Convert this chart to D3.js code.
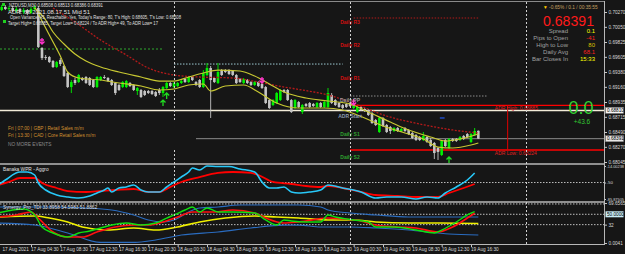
<!DOCTYPE html>
<html><head><meta charset="utf-8">
<script src="https://cdn.jsdelivr.net/npm/d3@7"></script>
<style>html,body{margin:0;padding:0;background:#161616;overflow:hidden}text{font-family:"Liberation Sans",Arial,sans-serif}</style>
</head><body><svg id="c" width="625" height="254"></svg>
<script>
// ---------------- DATA ----------------
const openP = [.70329,.70299,.70344,.70314,.70329,.70284,.70314,.70270,.70299,.70255,
.70314,.70329,.69736,.69602,.69602,.69543,.69454,.69558,.69469,.69365,
.69157,.69261,.69231,.69291,.69306,.69291,.69261,.69157,.69261,.69306,
.69291,.69261,.69217,.69187,.69157,.69157,.69217,.69187,.69098,.69113,
.69098,.69098,.69098,.69083,.69113,.69068,.69142,.69217,.69157,.69172,
.69217,.69276,.69231,.69306,.69231,.69261,.69157,.69335,.69439,.69291,
.69217,.69409,.69409,.69409,.69395,.69335,.69276,.69217,.69261,.69231,
.69187,.69231,.69202,.69157,.68964,.68890,.68920,.68964,.69113,.69113,
.68964,.68846,.68935,.68786,.68905,.68920,.68905,.68861,.68920,.68861,
.68861,.69039,.68964,.68920,.68890,.68905,.68920,.68846,.68786,.68861,
.68831,.68816,.68772,.68668,.68490,.68698,.68594,.68564,.68505,.68549,
.68505,.68549,.68520,.68475,.68445,.68416,.68371,.68416,.68371,.68327,
.68253,.68149,.68371,.68253,.68386,.68386,.68371,.68431,.68460,.68342,
.68445,.68508];
const highP = [.70358,.70373,.70373,.70358,.70358,.70344,.70329,.70329,.70314,.70344,
.70373,.70358,.69750,.69632,.69617,.69558,.69543,.69587,.69484,.69380,
.69261,.69291,.69350,.69306,.69320,.69306,.69276,.69320,.69320,.69335,
.69306,.69276,.69231,.69202,.69246,.69261,.69231,.69202,.69157,.69128,
.69113,.69113,.69113,.69098,.69142,.69172,.69231,.69231,.69231,.69231,
.69261,.69291,.69320,.69320,.69246,.69276,.69409,.69513,.69469,.69306,
.69513,.69424,.69424,.69424,.69409,.69350,.69291,.69291,.69276,.69246,
.69246,.69246,.69231,.69172,.68979,.68979,.69083,.69128,.69128,.69128,
.68979,.68979,.68950,.68905,.68920,.68935,.68920,.68935,.68935,.68950,
.69142,.69068,.68979,.68935,.68905,.68920,.68935,.68920,.68875,.68875,
.68846,.68831,.68786,.68683,.68712,.68712,.68609,.68579,.68564,.68564,
.68549,.68564,.68534,.68490,.68460,.68431,.68490,.68431,.68401,.68342,
.68267,.68371,.68386,.68401,.68401,.68401,.68431,.68445,.68475,.68475,
.68549,.68513];
const lowP = [.70270,.70284,.70299,.70284,.70270,.70255,.70240,.70240,.70225,.70240,
.70284,.69736,.69558,.69558,.69513,.69439,.69439,.69469,.69306,.69142,
.69068,.69187,.69217,.69246,.69202,.69172,.69142,.69142,.69246,.69276,
.69231,.69172,.69039,.69098,.69142,.69142,.69157,.69098,.69039,.68994,
.69024,.69053,.69039,.69009,.69039,.69009,.69128,.69157,.69142,.69157,
.69202,.69217,.69217,.69246,.69172,.69142,.69142,.69320,.68698,.69217,
.69202,.69320,.69365,.69335,.69320,.69202,.69217,.69202,.69202,.69172,
.69172,.69157,.69128,.68905,.68831,.68875,.68905,.68950,.69068,.68950,
.68772,.68831,.68846,.68757,.68861,.68846,.68861,.68846,.68846,.68846,
.68846,.68905,.68875,.68846,.68831,.68846,.68861,.68831,.68772,.68801,
.68786,.68727,.68609,.68579,.68475,.68564,.68475,.68460,.68490,.68490,
.68490,.68490,.68445,.68386,.68356,.68356,.68356,.68327,.68267,.68089,
.68075,.68134,.68267,.68238,.68342,.68342,.68356,.68371,.68401,.68327,
.68431,.68386];
const closeP = [.70299,.70344,.70314,.70329,.70284,.70314,.70270,.70299,.70255,.70314,
.70344,.69750,.69587,.69587,.69528,.69454,.69528,.69498,.69320,.69157,
.69231,.69217,.69335,.69261,.69217,.69187,.69157,.69306,.69306,.69291,
.69246,.69187,.69068,.69113,.69231,.69246,.69172,.69113,.69142,.69009,
.69039,.69068,.69053,.69024,.69068,.69157,.69217,.69172,.69217,.69217,
.69246,.69231,.69306,.69261,.69187,.69157,.69365,.69439,.69261,.69231,
.69380,.69335,.69380,.69350,.69335,.69217,.69231,.69276,.69217,.69187,
.69231,.69172,.69142,.68920,.68846,.68964,.69068,.69113,.69083,.68964,
.68786,.68964,.68861,.68890,.68875,.68861,.68875,.68920,.68861,.68935,
.69068,.68920,.68890,.68861,.68846,.68861,.68875,.68905,.68861,.68816,
.68801,.68742,.68623,.68594,.68698,.68579,.68490,.68505,.68549,.68505,
.68534,.68505,.68460,.68401,.68371,.68371,.68431,.68342,.68282,.68178,
.68193,.68356,.68282,.68386,.68356,.68356,.68416,.68386,.68416,.68460,
.68505,.68391];

// moving averages (bar index, price)
const maUpperBars = [10,13,15,18,21,24,28,33,39,44,48,52,56,60,66,70,74,78,84,90,96,101,107,112,118,122,126,131];
const maUpperVals = [.70329,.70151,.69973,.69795,.69647,.69543,.69454,.69380,.69306,.69246,.69246,.69306,.69365,.69409,.69395,.69320,.69202,.69083,.68994,.68950,.68905,.68786,.68638,.68520,.68416,.68356,.68386,.68460];
const maLowerBars = [11,14,17,19,22,28,33,39,44,48,52,56,58,62,67,71,76,82,89,94,100,105,111,116,120,124,129,131];
const maLowerVals = [.70240,.69928,.69617,.69380,.69291,.69261,.69217,.69172,.69113,.69128,.69187,.69202,.69098,.69172,.69187,.69083,.68920,.68846,.68846,.68816,.68698,.68579,.68475,.68386,.68267,.68253,.68297,.68327];
const maSlowBars = [15,21,28,35,41,48,55,64,71,78,83,90,96,106,115,124,131];
const maSlowVals = [.70329,.70121,.69854,.69632,.69439,.69335,.69306,.69291,.69231,.69157,.69113,.69039,.68935,.68727,.68609,.68520,.68475];

// signal arrows
const downArrowBars = [12,72,97];
const downArrowVals = [.69795,.69217,.68890];
const upArrowBars = [45,46,123];
const upArrowVals = [.68964,.69068,.68119];

// levels
const pivotNames = ["Daily R3","Daily R2","Daily R1","Daily PP","ADR Start","Daily S1","Daily S2"];
const pivotVals = [.70181,.69839,.69350,.69024,.68772,.68505,.68164];
const pivotColors = ["#d01010","#d01010","#d01010","#9a9a9a","#8b9bb0","#2fa02f","#2fa02f"];
const adrHigh = 0.68885, adrLow = 0.68224, whiteLevel = 0.68810, bidPrice = 0.68391;
const prevLevelGreen = 0.69721, prevLevelBlue = 0.69498;

// axes
const priceTicks = [0.70270,0.70050,0.69825,0.69605,0.69380,0.69160,0.68935,0.68715,0.68490,0.68270,0.68045];
const timeTickBars = [0,9,17,25,33,41,49,57,65,73,81,89,97,105,113,121,129];
const timeLabels = ["17 Aug 2021","17 Aug 04:30","17 Aug 08:30","17 Aug 12:30","17 Aug 16:30","17 Aug 20:30","18 Aug 00:30","18 Aug 04:30","18 Aug 08:30","18 Aug 12:30","18 Aug 16:30","18 Aug 20:30","19 Aug 00:30","19 Aug 04:30","19 Aug 08:30","19 Aug 12:30","19 Aug 16:30"];
const daySepBars = [48,96,144];

// Banaka WPR
const wprCyanBars = [0,2,6,8,10,11,13,16,19,22,25,27,29,30,31,33,35,37,39,41,44,46,48,50,52,53,55,57,60,63,66,70,72,74,76,78,80,82,85,88,90,94,99,103,106,110,114,117,120,122,125,128,130];
const wprCyanVals = [-55.4,-44.5,-27.1,-27.1,-33.6,-51.0,-66.3,-77.2,-81.5,-83.7,-79.3,-72.8,-66.3,-61.9,-70.6,-61.9,-59.7,-55.4,-66.3,-70.6,-70.6,-59.7,-48.8,-38.0,-27.1,-18.4,-22.7,-14.0,-15.1,-15.1,-20.5,-27.1,-48.8,-61.9,-61.9,-59.7,-70.6,-72.8,-70.6,-66.3,-55.4,-61.9,-70.6,-83.7,-81.5,-81.5,-85.8,-81.5,-83.7,-72.8,-59.7,-44.5,-29.2];
const wprRedBars = [0,3,6,10,12,16,19,24,28,32,37,41,44,47,50,55,60,64,69,71,75,80,84,88,90,94,99,103,109,114,120,123,127,130];
const wprRedVals = [-55.4,-48.8,-40.1,-40.1,-51.0,-61.9,-68.5,-70.6,-68.5,-66.3,-64.1,-70.6,-70.6,-59.7,-48.8,-38.0,-29.2,-27.1,-29.2,-33.6,-48.8,-53.2,-57.6,-59.7,-57.6,-61.9,-70.6,-77.2,-79.3,-81.5,-81.5,-72.8,-61.9,-53.2];
const wprTicks = [-14.00238,-50,-85.87505];
const wprTickLabels = ["-14.00238","-50","-85.87505"];

// Synergy TDI
const tdiUpBars = [0,6,14,23,31,37,41,45,48,52,55,60,66,73,82,88,90,96,103,112,123,131];
const tdiUpVals = [62.7,62.7,62.7,61.0,57.5,48.8,40.1,36.6,40.1,54.0,61.0,62.7,66.2,66.2,66.2,62.7,57.5,52.2,48.8,45.3,45.3,45.3];
const tdiLoBars = [0,10,19,28,37,43,50,60,69,78,82,88,96,103,112,120,123,131];
const tdiLoVals = [34.8,31.3,17.4,1.0,1.0,5.2,13.9,19.2,26.1,31.3,31.3,27.9,27.9,26.1,22.6,17.4,15.7,13.9];
const tdiYelBars = [0,10,14,19,23,30,37,43,49,55,62,70,76,82,90,97,103,112,121,131];
const tdiYelVals = [45.3,47.0,43.5,36.6,27.9,22.6,26.1,22.6,27.9,36.6,43.5,47.0,45.3,43.5,40.1,40.1,36.6,34.8,34.8,33.9];
const tdiGrnBars = [0,4,7,10,12,15,19,22,25,28,31,35,39,43,46,48,51,53,55,57,60,64,70,73,76,78,80,84,88,90,92,97,101,103,108,114,119,121,125,128,130];
const tdiGrnVals = [52.2,57.5,59.2,48.8,27.9,17.4,10.4,17.4,20.9,26.1,31.3,34.8,31.3,34.8,43.5,48.8,57.5,62.7,54.0,61.0,54.0,54.0,52.2,40.1,31.3,40.1,38.3,36.6,36.6,48.8,45.3,40.1,36.6,27.9,27.9,22.6,17.4,22.6,36.6,48.8,54.6];
const tdiRedBars = [0,5,9,11,15,19,23,27,32,37,41,45,49,53,59,64,70,73,78,82,90,94,99,103,109,114,120,124,128,130];
const tdiRedVals = [45.3,48.8,54.0,43.5,19.2,10.4,10.4,19.2,27.9,31.3,31.3,36.6,45.3,54.0,54.0,57.5,52.2,43.5,34.8,36.6,43.5,41.8,38.3,31.3,27.9,26.1,19.2,27.9,43.5,51.9];
const tdiLevels = [68,50,32];
const tdiTicks = [69.6565,32,0.0041];
const tdiTickLabels = ["69.6565","32","0.0041"];

// texts
const headerLines = ["NZDUSD,M30  0.68508 0.68513 0.68386 0.68391",
 "ADR: 68 2021.08.17 51 Mid 51",
 "Open Variance: 45, Reachable: Yes, Today's Range: 80, T's High: 0.68605, T's Low: 0.68508",
 "Target High= 0.68885, Target Low= 0.68224 / To ADR High= 49, To ADR Low= 17"];
const eventLines = ["Fri  |  07:00  |  GBP  |  Retail Sales m/m","Fri  |  13:30  |  CAD  |  Core Retail Sales m/m"];
const infoLabels = ["Spread","Pips to Open","High to Low","Daily Avg","Bar Closes In"];
const infoValues = ["0.1","-41","80","68.1","15:33"];
const infoColors = ["#ffff00","#ff2020","#d8c000","#ff2020","#ffff00"];
const tdiTitle = "Synergy_Pro_TDI 33.8958 54.5983 51.8862";

// ---------------- DRAW ----------------
const svg = d3.select("#c");
const AX = 604;
svg.append("rect").attr("width",625).attr("height",254).attr("fill","#161616");

const xBar = d3.scaleLinear().domain([0,48]).range([-2,174]);
const yP = d3.scaleLinear().domain([0.68045,0.70270]).range([162,12]);
const yW = d3.scaleLinear().domain([-85.87505,-14.00238]).range([199,166]);
const yT = d3.scaleLinear().domain([0,69.66]).range([243,203]);

const defs = svg.append("defs");
[["cm",2,162],["cw",165,36],["ct",203,40]].forEach(([id,y,h])=>{
  defs.append("clipPath").attr("id",id).append("rect").attr("x",0).attr("y",y).attr("width",AX).attr("height",h);
});

// frames
svg.append("line").attr("x1",0).attr("x2",AX).attr("y1",1.5).attr("y2",1.5).attr("stroke","#8a8a8a");
[164,202].forEach(y=>svg.append("line").attr("x1",0).attr("x2",AX+1).attr("y1",y).attr("y2",y).attr("stroke","#b8b8b8").attr("stroke-width",1.6));
svg.append("line").attr("x1",0).attr("x2",AX+1).attr("y1",244.5).attr("y2",244.5).attr("stroke","#b8b8b8").attr("stroke-width",1.2);
svg.append("line").attr("x1",AX+0.5).attr("x2",AX+0.5).attr("y1",1).attr("y2",245).attr("stroke","#b8b8b8");

const gm = svg.append("g").attr("clip-path","url(#cm)");
const gw = svg.append("g").attr("clip-path","url(#cw)");
const gt = svg.append("g").attr("clip-path","url(#ct)");

// day separators
daySepBars.forEach(b=>svg.append("line").attr("x1",Math.round(xBar(b))+0.5).attr("x2",Math.round(xBar(b))+0.5)
  .attr("y1",2).attr("y2",244).attr("stroke","#cfcfcf").attr("stroke-dasharray","2,2"));

// horizontal levels main
gm.append("line").attr("x1",0).attr("x2",xBar(45)).attr("y1",yP(prevLevelGreen)).attr("y2",yP(prevLevelGreen)).attr("stroke","#2fa82f").attr("stroke-dasharray","2,2");
gm.append("line").attr("x1",xBar(48)).attr("x2",xBar(94)).attr("y1",yP(prevLevelBlue)).attr("y2",yP(prevLevelBlue)).attr("stroke","#9cc8d0").attr("stroke-dasharray","1.5,1.5");
gm.append("line").attr("x1",xBar(97)).attr("x2",xBar(131)).attr("y1",yP(pivotVals[0])).attr("y2",yP(pivotVals[0])).attr("stroke","#b01818").attr("stroke-dasharray","1.5,1.5");
gm.append("line").attr("x1",xBar(96)).attr("x2",xBar(133.5)).attr("y1",yP(pivotVals[3])).attr("y2",yP(pivotVals[3])).attr("stroke","#8a8a8a").attr("stroke-dasharray","1.5,1.5");
gm.append("line").attr("x1",0).attr("x2",AX).attr("y1",yP(whiteLevel)).attr("y2",yP(whiteLevel)).attr("stroke","#f2ecd8").attr("stroke-width",1.6);
gm.append("line").attr("x1",xBar(54)).attr("x2",AX).attr("y1",yP(bidPrice)).attr("y2",yP(bidPrice)).attr("stroke","#8c8c8c").attr("stroke-width",1);
[adrHigh,adrLow].forEach(v=>gm.append("line").attr("x1",xBar(96)).attr("x2",AX).attr("y1",yP(v)).attr("y2",yP(v)).attr("stroke","#ff0000").attr("stroke-width",1.4));
gm.append("line").attr("x1",xBar(139)).attr("x2",xBar(139)).attr("y1",yP(adrHigh)).attr("y2",yP(adrLow)).attr("stroke","#e00000").attr("stroke-width",1);

// candles
const bars = d3.range(closeP.length);
const col = i=> closeP[i]>=openP[i] ? "#00f000" : "#c4c4c4";
gm.selectAll("line.wk").data(bars).join("line").attr("class","wk")
  .attr("x1",i=>xBar(i)).attr("x2",i=>xBar(i)).attr("y1",i=>yP(highP[i])).attr("y2",i=>yP(lowP[i]))
  .attr("stroke",col).attr("stroke-width",0.9);
gm.selectAll("rect.bd").data(bars).join("rect").attr("class","bd")
  .attr("x",i=>xBar(i)-1.3).attr("width",2.6)
  .attr("y",i=>yP(Math.max(openP[i],closeP[i])))
  .attr("height",i=>Math.max(1,Math.abs(yP(openP[i])-yP(closeP[i]))))
  .attr("fill",col);

// MAs
const lineP = d3.line().x(d=>xBar(d[0])).y(d=>yP(d[1])).curve(d3.curveMonotoneX);
gm.append("path").attr("d",lineP(d3.zip(maSlowBars,maSlowVals))).attr("fill","none").attr("stroke","#b51a1a").attr("stroke-width",1.3).attr("stroke-dasharray","2,1.5");
gm.append("path").attr("d",lineP(d3.zip(maUpperBars,maUpperVals))).attr("fill","none").attr("stroke","#c8c832").attr("stroke-width",1.2);
gm.append("path").attr("d",lineP(d3.zip(maLowerBars,maLowerVals))).attr("fill","none").attr("stroke","#c8c832").attr("stroke-width",1.2);
gm.append("line").attr("x1",xBar(120.5)).attr("x2",xBar(121.8)).attr("y1",yP(.68698)).attr("y2",yP(.68698)).attr("stroke","#2050d0").attr("stroke-width",1.4);

// arrows
downArrowBars.forEach((b,k)=>{
  const x=xBar(b), y=yP(downArrowVals[k]);
  gm.append("path").attr("d",`M${x},${y-6}V${y}M${x-2.5},${y-2.5}L${x},${y}L${x+2.5},${y-2.5}M${x-2},${y-4}H${x+2}`)
    .attr("stroke","#ff33cc").attr("stroke-width",1.3).attr("fill","none");
});
upArrowBars.forEach((b,k)=>{
  const x=xBar(b), y=yP(upArrowVals[k]);
  gm.append("path").attr("d",`M${x},${y+6}V${y}M${x-2.5},${y+2.5}L${x},${y}L${x+2.5},${y+2.5}`)
    .attr("stroke","#22dd22").attr("stroke-width",1.3).attr("fill","none");
});

// pivot labels
pivotNames.forEach((n,k)=>{
  gm.append("text").attr("x",xBar(96)).attr("y",yP(pivotVals[k])+5.5).attr("text-anchor","middle")
    .attr("font-size",5).attr("font-weight","bold").attr("fill",pivotColors[k]).text(n);
});
gm.append("text").attr("x",xBar(135.5)).attr("y",yP(adrHigh)+5).attr("font-size",5).attr("fill","#e02020").text("ADR High: "+adrHigh.toFixed(5));
gm.append("text").attr("x",xBar(135.5)).attr("y",yP(adrLow)+5).attr("font-size",5).attr("fill","#e02020").text("ADR Low: "+adrLow.toFixed(5));

// events box
svg.append("rect").attr("x",0).attr("y",122).attr("width",xBar(54)).attr("height",28).attr("fill","#161616");
eventLines.forEach((t,k)=>svg.append("text").attr("x",8).attr("y",130+k*7).attr("font-size",4.8).attr("fill","#d09030").text(t));
svg.append("text").attr("x",8).attr("y",146).attr("font-size",4.8).attr("fill","#8a8a8a").text("NO MORE EVENTS");

// header
const hx=[9,8,10,8], hy=[7,13.5,19,24.5], hw=[94,82,171,150];
headerLines.forEach((t,k)=>svg.append("text").attr("x",hx[k]).attr("y",hy[k]).attr("font-size",4.9)
  .attr("fill","#e0e0e0").attr("textLength",hw[k]).attr("lengthAdjust","spacingAndGlyphs").text(t));
svg.append("rect").attr("x",2).attr("y",3).attr("width",3).attr("height",3).attr("fill","#20d020");
svg.append("rect").attr("x",3).attr("y",20).attr("width",3).attr("height",3).attr("fill","#20d020");

// info panel
const tp = svg.append("text").attr("x",543).attr("y",9).attr("font-size",4.8);
tp.append("tspan").attr("fill","#ffcc00").text("▼ ");
tp.append("tspan").attr("fill","#c4a060").text("-0.65% / 0.1 / 00:35:55");
svg.append("text").attr("x",543).attr("y",25.5).attr("font-size",14.5).attr("fill","#ff1a1a")
  .attr("textLength",51).attr("lengthAdjust","spacingAndGlyphs").text(closeP[closeP.length-1].toFixed(5));
infoLabels.forEach((t,k)=>{
  svg.append("text").attr("x",568).attr("y",32.8+k*7).attr("text-anchor","end").attr("font-size",6).attr("fill","#a0a0a0").text(t);
  svg.append("text").attr("x",595).attr("y",32.8+k*7).attr("text-anchor","end").attr("font-size",6).attr("fill",infoColors[k]).text(infoValues[k]);
});
svg.append("text").attr("x",581).attr("y",113.5).attr("text-anchor","middle").attr("font-size",18).attr("fill","#32d232").text("0.0");
svg.append("text").attr("x",582).attr("y",123.5).attr("text-anchor","middle").attr("font-size",6.5).attr("fill","#32c832").text("+43.6");

// price axis
const pa = svg.append("g").attr("transform",`translate(${AX+0.5},0)`)
  .call(d3.axisRight(yP).tickValues(priceTicks).tickSize(2.5).tickPadding(1.5).tickFormat(d3.format(".5f")));
pa.select(".domain").remove();
pa.selectAll("line").attr("stroke","#c8c8c8");
pa.selectAll("text").attr("font-size",4.7).attr("fill","#d8d8d8").attr("font-family","Liberation Sans, Arial");
// price boxes
[[whiteLevel,"#f4f4f4","#000"],[bidPrice,"#e8e8e8","#000"]].forEach(([v,bg,fg])=>{
  const y=yP(v);
  svg.append("rect").attr("x",AX+1.5).attr("y",y-3).attr("width",18).attr("height",6).attr("fill",bg).attr("stroke","#777").attr("stroke-width",0.4);
  svg.append("text").attr("x",AX+3).attr("y",y+1.8).attr("font-size",4.7).attr("fill",fg).text(v.toFixed(5));
});

// time axis
const ta = svg.append("g").attr("transform","translate(0,245)")
  .call(d3.axisBottom(xBar).tickValues(timeTickBars).tickSize(2).tickPadding(1).tickFormat((d,i)=>timeLabels[i]));
ta.select(".domain").remove();
ta.selectAll("line").attr("stroke","#c8c8c8");
ta.selectAll("text").attr("font-size",4.7).attr("fill","#d8d8d8").attr("text-anchor","start").attr("dx",-0.5)
  .attr("font-family","Liberation Sans, Arial");
ta.selectAll(".tick").filter((d,i)=>i===0).select("text").attr("dx",4);

// ---- WPR panel
svg.append("text").attr("x",3).attr("y",171).attr("font-size",4.8).attr("fill","#e0e0e0").text("Banaka WPR - Aggro");
gw.append("line").attr("x1",0).attr("x2",AX).attr("y1",yW(-50)).attr("y2",yW(-50)).attr("stroke","#bdbdbd").attr("stroke-dasharray","1.5,1.5");
const lineW = d3.line().x(d=>xBar(d[0])).y(d=>yW(d[1])).curve(d3.curveMonotoneX);
gw.append("path").attr("d",lineW(d3.zip(wprRedBars,wprRedVals))).attr("fill","none").attr("stroke","#ff0000").attr("stroke-width",1.8);
gw.append("path").attr("d",lineW(d3.zip(wprCyanBars,wprCyanVals))).attr("fill","none").attr("stroke","#28c8f8").attr("stroke-width",1.6);
const wa = svg.append("g").attr("transform",`translate(${AX+0.5},0)`)
  .call(d3.axisRight(yW).tickValues(wprTicks).tickSize(1.5).tickPadding(0.5).tickFormat((d,i)=>wprTickLabels[i]));
wa.select(".domain").remove();
wa.selectAll("line").attr("stroke","#c8c8c8");
wa.selectAll("text").attr("font-size",4.4).attr("fill","#d8d8d8").attr("font-family","Liberation Sans, Arial")
  .each(function(d,i){ if(wprTickLabels[i].length>4) d3.select(this).attr("textLength",17.5).attr("lengthAdjust","spacingAndGlyphs"); });

// ---- TDI panel
svg.append("text").attr("x",3).attr("y",208.5).attr("font-size",4.8).attr("fill","#e0e0e0").text(tdiTitle);
tdiLevels.forEach(v=>gt.append("line").attr("x1",0).attr("x2",AX).attr("y1",yT(v)).attr("y2",yT(v)).attr("stroke","#bdbdbd").attr("stroke-dasharray","1.5,1.5"));
const lineT = d3.line().x(d=>xBar(d[0])).y(d=>yT(d[1])).curve(d3.curveMonotoneX);
[[tdiUpBars,tdiUpVals,"#2a6cc0",1.2],[tdiLoBars,tdiLoVals,"#2a6cc0",1.2],[tdiYelBars,tdiYelVals,"#f0f000",1.6],
 [tdiRedBars,tdiRedVals,"#ff1010",1.6],[tdiGrnBars,tdiGrnVals,"#10e010",1.4]].forEach(([b,v,c,w])=>{
  gt.append("path").attr("d",lineT(d3.zip(b,v))).attr("fill","none").attr("stroke",c).attr("stroke-width",w);
});
const tAx = svg.append("g").attr("transform",`translate(${AX+0.5},0)`)
  .call(d3.axisRight(yT).tickValues(tdiTicks).tickSize(2.5).tickPadding(1.5).tickFormat((d,i)=>tdiTickLabels[i]));
tAx.select(".domain").remove();
tAx.selectAll("line").attr("stroke","#c8c8c8");
tAx.selectAll("text").attr("font-size",4.7).attr("fill","#d8d8d8").attr("font-family","Liberation Sans, Arial");
svg.append("rect").attr("x",AX+1.5).attr("y",yT(50)-3).attr("width",18).attr("height",6).attr("fill","#c8ecf8");
svg.append("text").attr("x",AX+3).attr("y",yT(50)+1.8).attr("font-size",4.7).attr("fill","#000").text("50.0000");
</script>
</body></html>
